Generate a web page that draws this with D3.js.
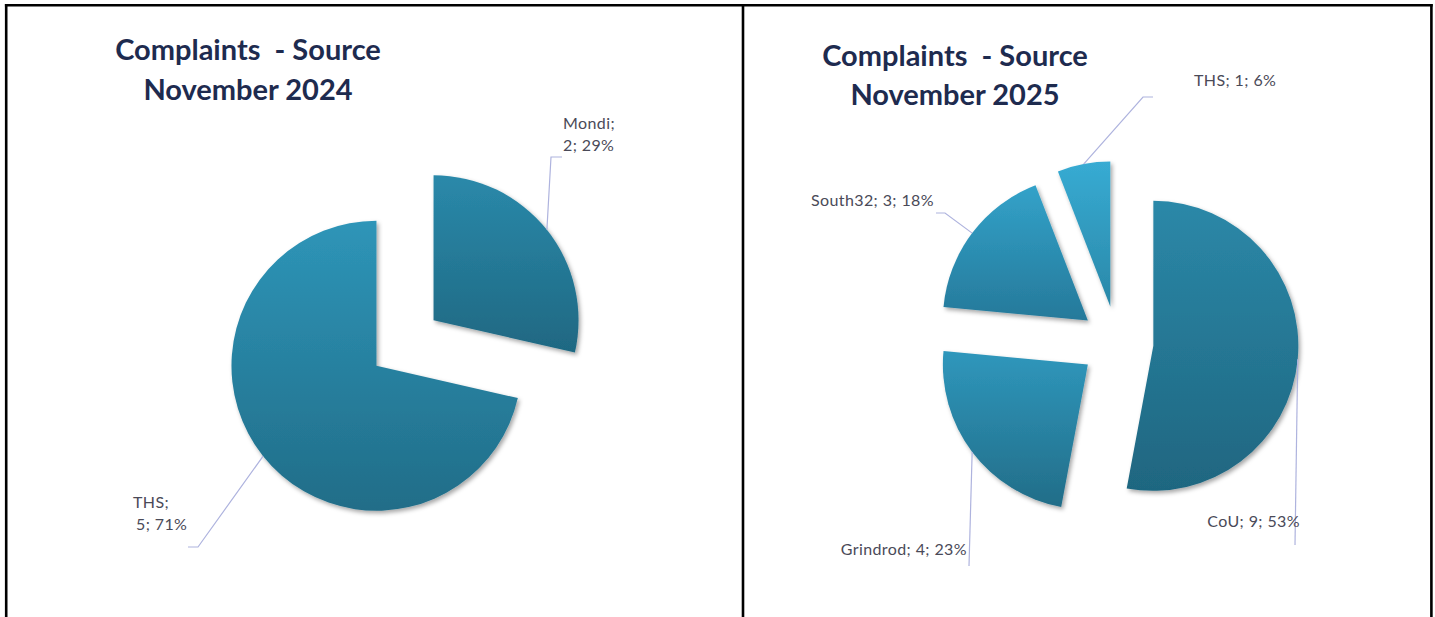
<!DOCTYPE html>
<html><head><meta charset="utf-8">
<script src="https://cdn.jsdelivr.net/npm/d3@7"></script>
<style>body{margin:0;background:#fff;} svg{display:block;}</style>
</head><body>
<script>
// ---- data ----
const leftTitle = ["Complaints  - Source", "November 2024"];
const leftCategories = ["Mondi", "THS"];
const leftValues = [2, 5];
const leftPercents = ["29%", "71%"];

const rightTitle = ["Complaints  - Source", "November 2025"];
const rightCategories = ["CoU", "Grindrod", "South32", "THS"];
const rightValues = [9, 4, 3, 1];
const rightPercents = ["53%", "23%", "18%", "6%"];

// ---- styles / layout ----
const W = 1435, H = 617;
const R = 145, EXPLODE = 36.5;
const leftColors = [["#2a89aa", "#1f6882"], ["#2e95b8", "#216d88"]];
const rightColors = [["#2b88a8", "#1f6680"], ["#2f97bc", "#226d88"], ["#32a2c9", "#26799a"], ["#37abd3", "#2a88a8"]];

const leftLayout = {
  cx: 405, cy: 343, titleX: 248, titleY: [60, 100],
  labels: [
    { pts: [[146, -186], [157, -186]], tx: 158, ty: -214, anchor: "start", wrap: true, dx2: 0 },
    { pts: [[-207, 204], [-217, 204]], tx: -272, ty: 165, anchor: "start", wrap: true, dx2: 3 }
  ]
};
const rightLayout = {
  cx: 1117, cy: 342.5, titleX: 955, titleY: [66, 105],
  labels: [
    { pts: [[178, 202.5]], tx: 183, ty: 184.5, anchor: "end" },
    { pts: [[-148, 223.5]], tx: -150, ty: 212.5, anchor: "end" },
    { pts: [[-172, -129.5], [-181, -129.5]], tx: -183, ty: -136.5, anchor: "end" },
    { pts: [[26, -245.5], [36, -245.5]], tx: 77, ty: -256.5, anchor: "start" }
  ]
};

const svg = d3.select("body").append("svg").attr("width", W).attr("height", H);
const defs = svg.append("defs");
const f = defs.append("filter").attr("id", "shadow").attr("x", "-20%").attr("y", "-20%").attr("width", "140%").attr("height", "140%");
f.append("feDropShadow").attr("dx", 2).attr("dy", 2.5).attr("stdDeviation", 2).attr("flood-color", "#000").attr("flood-opacity", 0.35);

function drawPie(id, title, cats, vals, pcts, colors, L) {
  colors.forEach((c, i) => {
    const g = defs.append("linearGradient").attr("id", id + "g" + i).attr("x1", 0).attr("y1", 0).attr("x2", 0).attr("y2", 1);
    g.append("stop").attr("offset", "0%").attr("stop-color", c[0]);
    g.append("stop").attr("offset", "100%").attr("stop-color", c[1]);
  });
  const tg = svg.append("g").attr("font-family", "Lato, 'Open Sans', sans-serif").attr("font-weight", "bold")
    .attr("font-size", 29).attr("fill", "#1e2b4f").attr("text-anchor", "middle");
  title.forEach((t, i) => tg.append("text").attr("x", L.titleX).attr("y", L.titleY[i]).style("white-space", "pre").text(t));

  const pie = d3.pie().sort(null).value(d => d)(vals);
  const arc = d3.arc().innerRadius(0).outerRadius(R);
  const g = svg.append("g").attr("transform", `translate(${L.cx},${L.cy})`);
  const lab = svg.append("g").attr("transform", `translate(${L.cx},${L.cy})`);
  pie.forEach((p, i) => {
    const mid = (p.startAngle + p.endAngle) / 2;
    const ox = Math.sin(mid) * EXPLODE, oy = -Math.cos(mid) * EXPLODE;
    g.append("path").attr("d", arc(p)).attr("transform", `translate(${ox},${oy})`)
      .attr("fill", `url(#${id}g${i})`).attr("filter", "url(#shadow)");
    const ax = ox + Math.sin(mid) * R, ay = oy - Math.cos(mid) * R;
    const lb = L.labels[i];
    const pts = [[ax, ay]].concat(lb.pts);
    lab.append("path").attr("d", d3.line()(pts)).attr("fill", "none").attr("stroke", "#aeb3de").attr("stroke-width", 1.2);
    const t = lab.append("text").attr("x", lb.tx).attr("y", lb.ty).attr("text-anchor", lb.anchor)
      .attr("font-family", "Lato, 'Open Sans', sans-serif").attr("font-size", 16).attr("letter-spacing", 0.4).attr("fill", "#4a4a58");
    if (lb.wrap) {
      t.append("tspan").attr("x", lb.tx).text(cats[i] + ";");
      t.append("tspan").attr("x", lb.tx + lb.dx2).attr("dy", 22).text(vals[i] + "; " + pcts[i]);
    } else {
      t.text(cats[i] + "; " + vals[i] + "; " + pcts[i]);
    }
  });
}
drawPie("L", leftTitle, leftCategories, leftValues, leftPercents, leftColors, leftLayout);
drawPie("R", rightTitle, rightCategories, rightValues, rightPercents, rightColors, rightLayout);

// panel borders
const bd = svg.append("g").attr("stroke", "#000").attr("stroke-width", 2.6);
bd.append("line").attr("x1", 4.9).attr("x2", 1432.7).attr("y1", 5.3).attr("y2", 5.3);
[6.2, 743, 1431.4].forEach(x => bd.append("line").attr("x1", x).attr("x2", x).attr("y1", 4).attr("y2", H));
</script>
</body></html>
